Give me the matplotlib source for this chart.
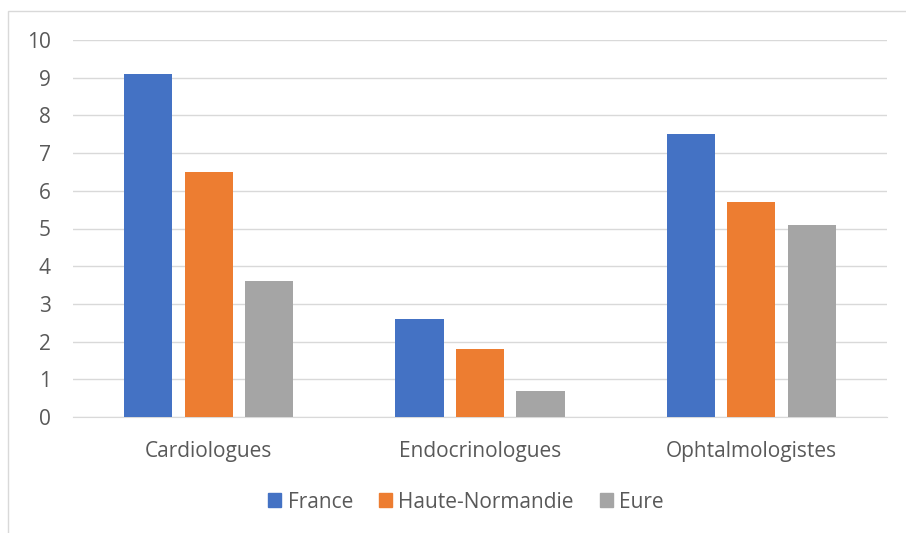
import numpy as np
import matplotlib
matplotlib.use("Agg")
import matplotlib.pyplot as plt
from matplotlib.patches import Rectangle, Patch

categories = ["Cardiologues", "Endocrinologues", "Ophtalmologistes"]
series_names = ["France", "Haute-Normandie", "Eure"]
france = [9.1, 2.6, 7.5]
haute_normandie = [6.5, 1.8, 5.7]
eure = [3.6, 0.7, 5.1]
colors = ["#4472C4", "#ED7D31", "#A5A5A5"]

plt.rcParams["font.family"] = ["Open Sans", "DejaVu Sans"]
txt = "#595959"

fig = plt.figure(figsize=(9.06, 5.33), dpi=100)
# chart area border
fig.patches.append(Rectangle((8 / 906, -0.1), 1.2, (533 - 11) / 533 + 0.1,
                             transform=fig.transFigure, fill=False,
                             edgecolor="#d9d9d9", linewidth=1))
ax = fig.add_axes([73 / 906, 116 / 533, 814 / 906, 377 / 533])

x = np.arange(len(categories))
w = 0.177
step = 0.223
for i, (vals, name) in enumerate(zip([france, haute_normandie, eure], series_names)):
    ax.bar(x + (i - 1) * step, vals, w, color=colors[i], label=name, zorder=3)

ax.set_xlim(-0.5, 2.5)
ax.set_ylim(0, 10)
ax.set_yticks(range(0, 11))
ax.set_xticks(x)
ax.set_xticklabels(categories)
ax.grid(axis="y", color="#d9d9d9", linewidth=1, zorder=0)
for s in ["top", "right", "left"]:
    ax.spines[s].set_visible(False)
ax.spines["bottom"].set_color("#d9d9d9")
ax.tick_params(axis="both", length=0, labelsize=15, colors=txt)
ax.tick_params(axis="y", pad=16)
ax.tick_params(axis="x", pad=17)

handles = [Patch(color=c) for c in colors]
leg = fig.legend(handles, series_names, loc="center", bbox_to_anchor=(466 / 906, (533 - 502) / 533),
                 ncol=3, frameon=False, fontsize=15, handlelength=0.62, handleheight=0.62,
                 handletextpad=0.3, columnspacing=1.25)
for t in leg.get_texts():
    t.set_color(txt)

fig.savefig("out.png", dpi=100)
